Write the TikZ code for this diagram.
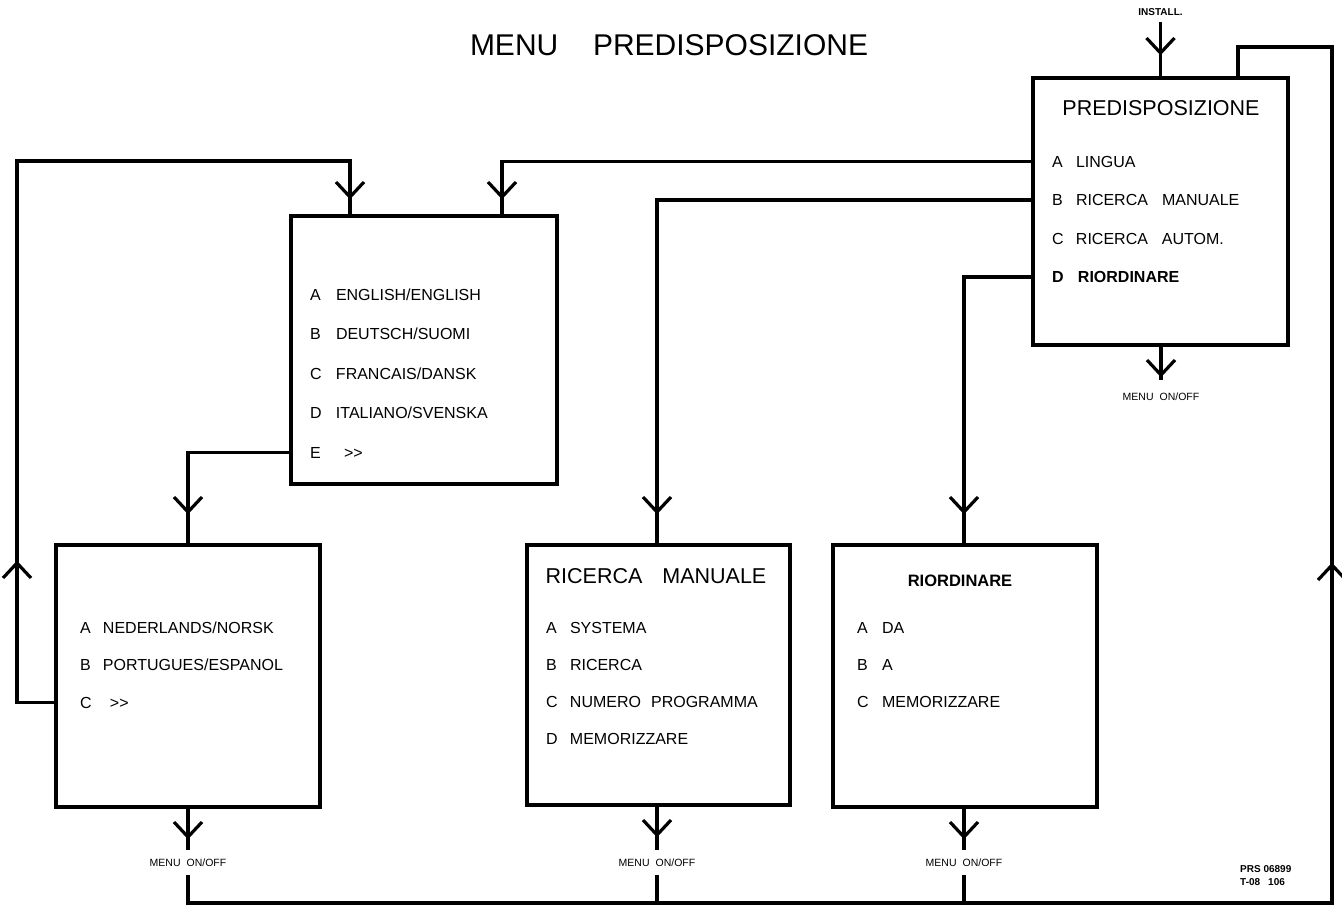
\documentclass[tikz,border=0pt]{standalone}
\usepackage{fontspec}
\setmainfont{Liberation Sans}
\usetikzlibrary{calc}
\newcommand{\mkl}[2]{\makebox[#1pt][l]{#2}}
\tikzset{
  box/.style={draw, line width=3.2pt, inner sep=0pt, outer sep=0pt},
  conn/.style={line width=3.4pt, line join=miter},
  item/.style={anchor=base west, inner sep=0pt, outer sep=0pt, font=\fontsize{16}{19}\selectfont},
  head/.style={anchor=base, inner sep=0pt, outer sep=0pt, font=\fontsize{21.5}{25}\selectfont},
  bighead/.style={anchor=base west, inner sep=0pt, outer sep=0pt, font=\fontsize{30}{34}\selectfont},
  small/.style={anchor=base, inner sep=0pt, outer sep=0pt, font=\fontsize{10.5}{12}\selectfont},
  vdown/.pic={\draw[line width=3.2pt] (-14,-15) -- (0,0) -- (14,-15);},
  vup/.pic={\draw[line width=3.2pt] (-14,15) -- (0,0) -- (14,15);},
}
\begin{document}
\begin{tikzpicture}[x=1pt,y=-1pt]
\useasboundingbox[fill=white] (0,0) rectangle (1342,914);

% title
\node[bighead] (tmenu) at (470,55) {MENU};
\node[bighead] (tpred) at (593,55) {PREDISPOSIZIONE};

% boxes
\node[box, minimum width=255pt, minimum height=267pt] (pre) at (1160.5,211.5) {};
\node[box, minimum width=266pt, minimum height=268pt] (b1) at (424,350) {};
\node[box, minimum width=264pt, minimum height=262pt] (b2) at (188,676) {};
\node[box, minimum width=263pt, minimum height=260pt] (b3) at (658.5,675) {};
\node[box, minimum width=264pt, minimum height=262pt] (b4) at (965,676) {};

% PREDISPOSIZIONE box text
\node[head] (preT) at (1161,115) {PREDISPOSIZIONE};
\node[item] (preA) at (1052,167) {\mkl{24}{A}LINGUA};
\node[item] (preB) at (1052,205.5) {\mkl{24}{B}RICERCA\hspace{14pt}MANUALE};
\node[item] (preC) at (1052,244) {\mkl{24}{C}RICERCA\hspace{14pt}AUTOM.};
\node[item, font=\fontsize{16}{19}\selectfont\bfseries] (preD) at (1052,282.5) {\mkl{26}{D}RIORDINARE};

% box 1 text
\node[item] (b1A) at (310,300) {\mkl{26}{A}ENGLISH/ENGLISH};
\node[item] (b1B) at (310,339.5) {\mkl{26}{B}DEUTSCH/SUOMI};
\node[item] (b1C) at (310,379) {\mkl{26}{C}FRANCAIS/DANSK};
\node[item] (b1D) at (310,418.5) {\mkl{26}{D}ITALIANO/SVENSKA};
\node[item] (b1E) at (310,458) {\mkl{34}{E}{>}{>}};

% box 2 text
\node[item] (b2A) at (80,633) {\mkl{23}{A}NEDERLANDS/NORSK};
\node[item] (b2B) at (80,670.5) {\mkl{23}{B}PORTUGUES/ESPANOL};
\node[item] (b2C) at (80,708) {\mkl{30}{C}{>}{>}};

% box 3 text
\node[head] (b3T) at (656,583) {RICERCA\hspace{20pt}MANUALE};
\node[item] (b3A) at (546,633) {\mkl{24}{A}SYSTEMA};
\node[item] (b3B) at (546,670) {\mkl{24}{B}RICERCA};
\node[item] (b3C) at (546,707) {\mkl{24}{C}NUMERO\hspace{10pt}PROGRAMMA};
\node[item] (b3D) at (546,744) {\mkl{24}{D}MEMORIZZARE};

% box 4 text
\node[head, font=\fontsize{16.5}{19}\selectfont\bfseries] (b4T) at (960,586) {RIORDINARE};
\node[item] (b4A) at (857,633) {\mkl{25}{A}DA};
\node[item] (b4B) at (857,670) {\mkl{25}{B}A};
\node[item] (b4C) at (857,707) {\mkl{25}{C}MEMORIZZARE};

% small labels
\node[small, font=\fontsize{10}{12}\selectfont\bfseries] (inst) at (1160.5,15) {INSTALL.};
\node[small] (preM) at (1161,400) {MENU\hspace{6pt}ON/OFF};
\node[small] (b2M) at (188,866) {MENU\hspace{6pt}ON/OFF};
\node[small] (b3M) at (657,866) {MENU\hspace{6pt}ON/OFF};
\node[small] (b4M) at (964,866) {MENU\hspace{6pt}ON/OFF};
\node[anchor=base west, inner sep=0pt, font=\fontsize{10}{12}\selectfont\bfseries] (prs) at (1240,872) {PRS 06899};
\node[anchor=base west, inner sep=0pt, font=\fontsize{10}{12}\selectfont\bfseries] (prs2) at (1240,885) {T-08\hspace{8pt}106};

% connectors
% install input
\draw[conn] ($(inst.south)+(0,7)$) -- (inst.south |- pre.north);
\pic at (1160.5,53) {vdown};
% predisposizione -> menu on/off
\draw[conn] (preM.north |- pre.south) -- ($(preM.north)+(0,-12)$);
\pic at (1161,375) {vdown};
% A LINGUA -> box1
\draw[conn] (preA -| pre.west) -| ($(b1.north)+(78,0)$);
\pic at (502,197) {vdown};
% left loop from box2 C -> box1
\coordinate (lTop) at (17,161);
\draw[conn] (b2C -| b2.west) -| (lTop) -| ($(b1.north)+(-74,0)$);
\pic at (350,197) {vdown};
\pic at (17,563) {vup};
% box1 E -> box2
\draw[conn] (b1E -| b1.west) -| (b2.north);
\pic at (188,512) {vdown};
% B -> box3
\draw[conn] (preB -| pre.west) -| (b3M |- b3.north);
\pic at (657,512) {vdown};
% D -> box4
\draw[conn] (preD -| pre.west) -| (b4M |- b4.north);
\pic at (964,512) {vdown};
% bottom outputs
\draw[conn] (b2M.north |- b2.south) -- ($(b2M.north)+(0,-8)$);
\pic at (188,837) {vdown};
\draw[conn] (b3M.north |- b3.south) -- ($(b3M.north)+(0,-8)$);
\pic at (657,835) {vdown};
\draw[conn] (b4M.north |- b4.south) -- ($(b4M.north)+(0,-8)$);
\pic at (964,837) {vdown};
% return loop
\coordinate (loopR) at (1332,903);
\coordinate (loopT) at (1332,47);
\draw[conn] ($(b2M.south)+(0,9)$) |- (loopR) -- (loopT) -| ($(pre.north)+(77.5,0)$);
\draw[conn] ($(b3M.south)+(0,9)$) -- (b3M |- loopR);
\draw[conn] ($(b4M.south)+(0,9)$) -- (b4M |- loopR);
\pic at (1332,565) {vup};
\end{tikzpicture}
\end{document}
